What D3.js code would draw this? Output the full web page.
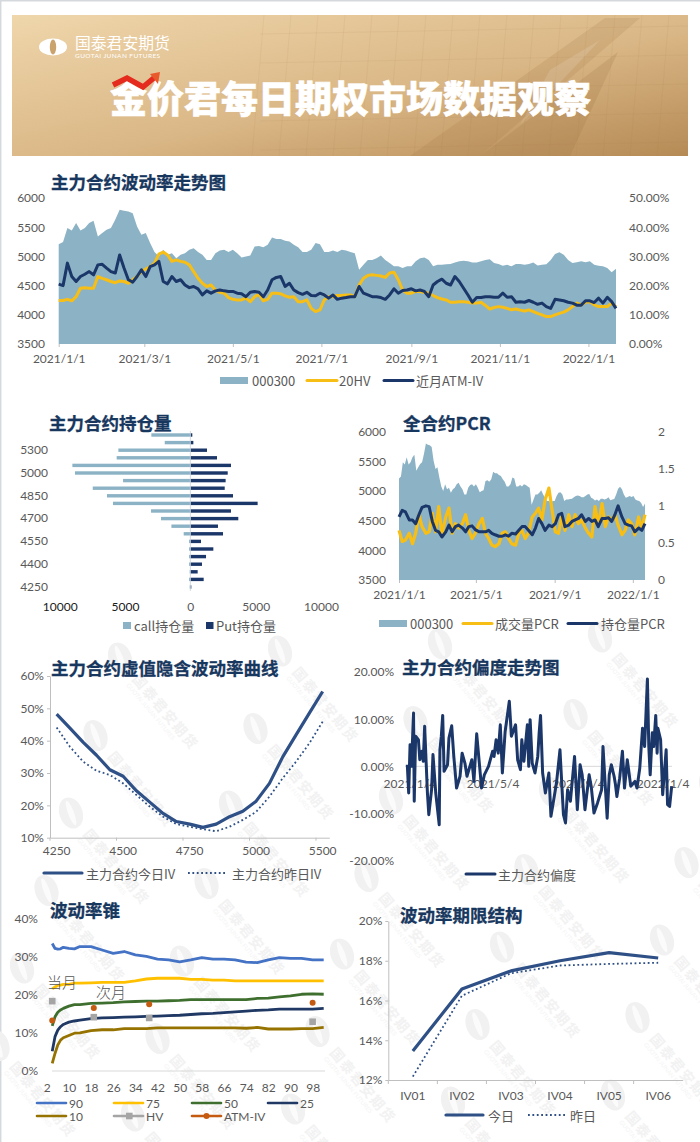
<!DOCTYPE html>
<html>
<head>
<meta charset="utf-8">
<script src="https://cdn.jsdelivr.net/npm/d3@7"></script>
<style>
  html, body { margin: 0; padding: 0; background: #fff; }
  svg { display: block; }
  text { font-family: Lato, "Noto Sans CJK SC", sans-serif; fill: #595959; font-size: 12px; }
  .title { font-family: "Noto Sans CJK SC", sans-serif; font-size: 17.5px; font-weight: 700; fill: #17375e; stroke: #17375e; stroke-width: 0.3px; }
  .legend { font-size: 13px; font-family: "Noto Sans CJK SC", Lato, sans-serif; }
  .axis path, .axis line { stroke: #bfbfbf; }
</style>
</head>
<body>
<div id="container"></div>
<script>
// sampled every 3 days from 2021/1/1
const hs300 = [5210,5245,5485,5445,5570,5445,5485,5570,5610,5340,5400,5455,5485,5630,5800,5780,5770,5740,5510,5370,5400,5230,5075,5000,5115,5030,5055,4970,5030,5055,5115,5140,5075,5030,4940,4940,5055,5100,5115,5075,5115,5055,4980,5000,5015,5170,5180,5155,5200,5325,5300,5300,5270,5255,5200,5155,5075,5075,5115,5230,5210,5075,5075,5100,5075,5115,5100,5075,5055,4770,4855,4940,4940,4970,5015,4940,4885,4830,4830,4800,4830,4830,4915,4970,4980,4940,4830,4855,4855,4865,4870,4895,4915,4925,4915,4895,4895,4915,4940,4950,4885,4870,4840,4855,4830,4870,4870,4855,4870,4895,4845,4855,4865,4940,5040,5070,5030,4940,4885,4900,4915,4900,4915,4855,4840,4830,4800,4730,4790];
const hv20 = [14.9,14.9,15.3,14.8,16.2,19.1,19.3,19.1,19.1,23.1,22.5,22.0,21.4,21.0,21.6,21.4,20.8,22.0,23.1,24.8,25.7,26.5,27.7,30.8,31.5,30.5,28.3,28.8,28.3,28.0,27.1,24.8,22.5,20.8,19.7,20.2,18.5,17.7,17.4,15.9,15.3,15.1,15.1,15.7,14.5,16.2,17.0,14.8,15.3,17.4,17.4,17.2,16.5,16.0,16.2,14.5,14.5,15.1,12.2,11.1,11.7,15.1,16.2,16.2,16.6,16.6,16.8,16.8,16.2,20.2,22.5,23.5,23.7,23.5,23.3,22.8,24.3,24.6,22.0,18.5,17.4,17.4,18.0,18.0,17.6,17.4,16.6,15.9,15.4,15.1,14.3,14.3,14.5,14.5,14.3,14.0,14.0,14.3,13.2,12.0,12.5,12.8,12.6,12.2,11.7,12.0,11.6,11.3,11.7,11.1,10.5,10.0,9.4,9.4,10.0,10.5,10.9,11.7,12.8,14.0,13.4,14.3,14.5,13.4,12.8,12.8,12.8,14.0,12.8];
const atmIv = [20.5,20.0,27.7,23.1,21.4,23.1,23.9,24.8,23.7,27.1,27.3,26.0,24.8,24.3,30.5,26.0,22.0,21.2,23.1,25.4,23.1,26.5,27.1,28.3,21.4,20.6,23.1,21.4,22.0,20.2,19.3,19.7,18.9,16.8,18.2,17.4,18.2,18.5,18.2,18.0,18.0,17.4,17.2,16.2,17.7,18.0,17.7,16.2,18.5,22.0,22.8,23.1,19.7,20.8,18.5,17.6,17.0,17.7,16.6,16.5,17.4,16.8,15.7,16.8,15.3,15.7,15.9,16.2,16.2,19.7,17.4,16.8,16.2,16.2,15.9,15.3,16.8,18.9,17.4,18.3,18.5,18.9,18.2,18.5,18.0,16.2,20.2,21.4,22.2,20.8,20.2,23.1,21.4,19.1,16.8,14.3,15.9,15.9,16.2,16.2,16.0,16.0,17.4,16.0,16.2,14.3,14.5,14.3,14.9,14.3,13.6,14.0,12.8,12.2,15.3,15.1,14.8,14.3,14.0,13.3,13.3,14.8,14.8,14.2,15.7,14.0,16.0,14.5,12.2];
const volTickLabels = ["2021/1/1","2021/3/1","2021/5/1","2021/7/1","2021/9/1","2021/11/1","2022/1/1"];

const strikes = [4250,4300,4350,4400,4450,4500,4550,4600,4650,4700,4750,4800,4850,4900,4950,5000,5100,5200,5300,5400,5500];
const strikeTicks = [4250,4400,4550,4700,4850,5000,5300];
const callOi = [50,100,50,100,100,100,100,510,1450,2245,3010,5920,6380,7470,5150,8830,9030,5640,5510,1960,2985];
const putOi = [75,1020,560,890,1200,1760,815,2500,2115,3670,3110,5150,3265,2630,2700,2860,3110,2040,1275,230,150];

const pcrVolume = [.67,.52,.54,.63,.49,.63,.88,.72,.63,.65,.90,.65,.99,.61,.85,.97,.63,.76,.70,.76,.88,.67,.56,.63,.76,.83,.63,.56,.47,.45,.49,.63,.65,.56,.49,.47,.63,.67,.56,.63,.85,.90,.97,.81,1.08,1.24,.94,.65,.63,.85,.67,.88,.72,.88,.76,.81,.70,.63,.58,.99,.74,1.03,.72,.85,.81,.88,.74,.61,.67,.81,.76,.61,.85,.70,.88];
const pcrOi = [.85,.94,.92,.81,.81,.76,.88,.98,1.0,.99,.79,.67,.65,.58,.65,.74,.65,.72,.74,.70,.65,.72,.73,.68,.65,.65,.65,.67,.63,.61,.59,.59,.61,.59,.63,.62,.67,.72,.72,.67,.61,.70,.83,.76,.67,.74,.72,.76,.88,.90,.72,.74,.79,.81,.83,.88,.79,.83,.79,.81,.72,.83,.83,.84,.79,.88,1.0,.85,.76,.74,.73,.65,.70,.67,.76];
const pcrTickLabels = ["2021/1/1","2021/5/1","2021/9/1","2022/1/1"];

const ivToday = [48.2,43.9,39.5,35.5,31,29,24.5,21,17.5,15,14.2,13.2,14.2,16.5,18.2,21.3,26.8,35,41.8,48.5,55.2];
const ivYesterday = [44.1,38.1,33.5,30.7,29.4,26.8,23.2,19.6,16.5,14.2,13.4,12.6,12,13.4,15.5,18,22.7,28.4,33.5,39.2,45.9];
const ivTicks = [4250,4500,4750,5000,5500];

// days after 2021/1/4, the series is too jagged to read on a regular step
const skewDays = [0,2,4,6,9,10,12,16,18,21,23,25,29,31,35,37,41,46,47,49,51,53,58,60,64,67,71,76,79,83,86,93,96,100,107,111,117,123,125,128,131,134,137,141,147,150,156,159,163,165,168,173,175,177,180,184,188,190,192,195,199,204,207,211,215,220,225,228,231,235,241,245,249,252,256,262,265,269,274,280,282,288,291,294,298,300,302,306,310,313,317,322,328,331,335,339,342,346,348,350,353,355,358,360,361,365,368,373,375,378,381];
const skew = [.35,-5.65,4.6,0,11.3,-7.4,6.4,5.65,1.4,3.2,1.06,8.5,-5.65,-10.25,-4.95,2.5,-5.65,-12.4,3.5,6.4,10.8,-1.06,.35,6,8.6,2.1,-4.6,-2.1,2.8,.7,-2.1,1.4,-3.2,6.9,-4.6,-1.8,0,3.2,2.1,5.65,2.8,8.8,-1.4,7.4,13.8,6.4,8.8,1.4,-.7,5.65,1.06,8.8,0,9.9,.7,-1.4,2.1,7.1,10.8,-1.4,-5.65,-1.4,-10.6,-7.1,-3.5,3.5,-10.25,-12,-4.95,-7.4,2.1,-9.2,.35,-1.8,-9.2,-1.8,-4.2,-9.9,-7.8,-4.95,4.2,-11,-1.8,.35,-2.1,-3.9,-6.4,-2.5,3.2,-4.6,1.4,-4.2,-3.2,-4.6,-.35,8.1,4.2,18.5,4.2,-1.8,7.1,4.2,10.8,2.8,8.1,5.65,-6,3.5,-8.1,-8.5,-4.2];
const skewTickLabels = ["2021/1/4","2021/5/4","2021/9/4","2022/1/4"];

const coneX = [4,5,6,7,8,10,12,14,18,22,26,30,34,38,42,46,50,54,58,62,66,70,74,78,82,86,90,94,98,102];
const cone90 = [33.4,32.1,31.9,32,32.4,32.1,32,32.6,32.6,31.7,30.8,31.3,30.4,30,29.3,29.1,28.6,29.1,29.7,29.3,29.3,29.1,28.5,28.4,29.1,29.7,29.5,29.5,29.1,29.1];
const cone75 = [21.5,22,22.4,22.5,22.7,22.7,23,23,23.1,23.2,23.2,23.2,23.6,24.1,24.3,24.3,24.3,24,24,23.8,23.8,23.6,23.6,23.6,23.6,23.6,23.6,23.6,23.6,23.6];
const cone50 = [11.8,14.2,15.4,16,16.4,17,17.4,17.4,17.7,17.8,17.9,18.1,18.2,18.3,18.3,18.4,18.5,18.7,18.7,18.7,18.7,18.7,18.7,19,19.1,19.4,19.7,20.1,20.2,20.1];
const cone25 = [5.2,9,10.7,11.6,12.2,12.8,13.1,13.3,13.7,13.9,14,14.1,14.2,14.3,14.4,14.5,14.6,14.8,15,15.1,15.3,15.5,15.7,15.9,16,16.2,16.2,16.2,16.2,16.4];
const cone10 = [2,4.6,6.8,8.1,8.7,9.3,9.9,10,10.6,10.8,10.8,11.1,11.1,11.1,11.3,11.3,11.3,11.3,11.3,11.3,11.3,11.3,11.2,11.4,11,11,11,11.1,11.1,11.4];
const coneTicks = [2,10,18,26,34,42,50,58,66,74,82,90,98];
const pointX = [4,19,39,98];
const hvPoints = [18.3,14.1,13.9,12.9];
const atmPoints = [13.2,16.5,17.5,17.9];

const terms = ["IV01","IV02","IV03","IV04","IV05","IV06"];
const termToday = [13.46,16.58,17.49,18,18.41,18.14];
const termYesterday = [12.17,16.24,17.37,17.76,17.84,17.9];

const navy = "#1b3668", gold = "#f7be16", teal = "#8cb3c5", blue2 = "#2e5086";
const width = 700, height = 1142;

const svg = d3.select("#container").append("svg").attr("width", width).attr("height", height);

// page frame
svg.append("rect").attr("width", width).attr("height", height).attr("fill", "#fff");
svg.append("path").attr("d", "M0.7,1142V0.7H700").attr("fill", "none").attr("stroke", "#d5d9dd").attr("stroke-width", 1.5);

// watermark, a skewed grid of logo + name
const wm = svg.append("g");
for (let r = -4; r < 14; r++) {
  for (let c = -3; c < 7; c++) {
    const x = 502 + c * 160 - r * 24.5, y = 947 + c * -7 + r * 77.5;
    if (x < -40 || x > 730 || y < 120 || y > 1160) continue;
    const g = wm.append("g").attr("transform", `translate(${x},${y})`);
    g.append("ellipse").attr("rx", 11.5).attr("ry", 16).attr("transform", "rotate(-20)").attr("fill", "#f1f1f1");
    g.append("ellipse").attr("rx", 3).attr("ry", 13).attr("transform", "rotate(-20)").attr("fill", "#fbfbfb");
    const t = g.append("g").attr("transform", "rotate(50)");
    t.append("text").attr("x", 24).attr("y", 5).text("国泰君安期货")
      .style("font-family", "'Noto Sans CJK SC'").style("font-size", "14px").style("font-weight", 700)
      .style("fill", "#f2f2f2").style("letter-spacing", "1.5px");
    t.append("text").attr("x", 25).attr("y", 13).text("GUOTAI JUNAN FUTURES")
      .style("font-size", "6px").style("fill", "#f4f4f4");
  }
}

// banner
const defs = svg.append("defs");
const grad = defs.append("linearGradient").attr("id", "banner")
  .attr("x1", "0").attr("y1", "0").attr("x2", "1").attr("y2", "1");
grad.append("stop").attr("offset", "0").attr("stop-color", "#efd6ab");
grad.append("stop").attr("offset", "0.55").attr("stop-color", "#dab786");
grad.append("stop").attr("offset", "1").attr("stop-color", "#b58a55");
defs.append("clipPath").attr("id", "bannerClip").append("rect")
  .attr("x", 12).attr("y", 15).attr("width", 676).attr("height", 141);

const banner = svg.append("g").attr("clip-path", "url(#bannerClip)");
banner.append("rect").attr("x", 12).attr("y", 15).attr("width", 676).attr("height", 141).attr("fill", "url(#banner)");
d3.range(260, 680, 27).forEach(x => {
  banner.append("line").attr("x1", x + 4).attr("y1", 15).attr("x2", x - 8).attr("y2", 156)
    .attr("stroke", "#a67f4d").attr("stroke-opacity", 0.09);
});
d3.range(30, 150, 29).forEach(y => {
  banner.append("line").attr("x1", 260).attr("y1", y + 4).attr("x2", 688).attr("y2", y - 4)
    .attr("stroke", "#a67f4d").attr("stroke-opacity", 0.09);
});
banner.append("polygon").attr("points", "410,156 605,18 640,18 480,156").attr("fill", "#9c7340").attr("opacity", 0.16);
banner.append("polygon").attr("points", "480,156 618,52 570,156").attr("fill", "#9c7340").attr("opacity", 0.2);
banner.append("polygon").attr("points", "550,70 600,40 520,125").attr("fill", "#fff").attr("opacity", 0.12);

// logo
banner.append("ellipse").attr("cx", 53).attr("cy", 47).attr("rx", 14).attr("ry", 8.5).attr("fill", "#fff");
banner.append("ellipse").attr("cx", 53).attr("cy", 47).attr("rx", 3.2).attr("ry", 7.5).attr("fill", "#c9a26c");
banner.append("text").attr("x", 75).attr("y", 49).text("国泰君安期货")
  .style("font-family", "'Noto Sans CJK SC'").style("font-size", "15.8px").style("fill", "#fff");
banner.append("text").attr("x", 75).attr("y", 58).text("GUOTAI JUNAN FUTURES")
  .style("font-size", "6.5px").style("fill", "#fff").style("letter-spacing", "0.4px");
banner.append("text").attr("x", 110).attr("y", 113).text("金价君每日期权市场数据观察")
  .style("font-family", "'Noto Sans CJK SC'").style("font-size", "37px").style("font-weight", 900)
  .style("fill", "#fff").attr("stroke", "#fff").attr("stroke-width", 0.6);
banner.append("path").attr("d", "M113,85L127,78L143,87L155,77").attr("fill", "none")
  .attr("stroke", "#e52a1e").attr("stroke-width", 5.5);
banner.append("polygon").attr("points", "150,74 160,72 158,84").attr("fill", "#e85a2c");

const title = (x, y, t) => svg.append("text").attr("class", "title").attr("x", x).attr("y", y)
  .attr("dominant-baseline", "central").text(t);
const label = (x, y, t, cls) => svg.append("text").attr("class", cls || "legend").attr("x", x).attr("y", y)
  .attr("dominant-baseline", "central").text(t);
const swatchLine = (x1, x2, y, color, w, dash) => svg.append("line")
  .attr("x1", x1).attr("x2", x2).attr("y1", y).attr("y2", y)
  .attr("stroke", color).attr("stroke-width", w).attr("stroke-dasharray", dash || null).attr("stroke-linecap", dash ? "butt" : "round");
const swatchRect = (x, y, w, h, color) => svg.append("rect").attr("x", x).attr("y", y).attr("width", w).attr("height", h).attr("fill", color);
const drawLine = (gen, data, color, w, dash) => svg.append("path").datum(data)
  .attr("d", gen).attr("fill", "none").attr("stroke", color).attr("stroke-width", w)
  .attr("stroke-linejoin", "round").attr("stroke-dasharray", dash || null);
const axisStyle = (g, hideLine) => {
  g.attr("class", "axis");
  if (hideLine) g.select(".domain").remove();
  g.selectAll("text").style("fill", "#595959");
};

const start2021 = new Date(2021, 0, 1);
const seriesDate = (i, n) => d3.timeDay.offset(start2021, Math.round(i * 384 / (n - 1)));

function indexChart(x0, x1, yTop, yBottom, tickLabels) {
  const x = d3.scaleTime().domain([start2021, d3.timeDay.offset(start2021, 384)]).range([x0, x1]);
  const y = d3.scaleLinear().domain([3500, 6000]).range([yBottom, yTop]);
  svg.append("path").datum(hs300).attr("fill", teal)
    .attr("d", d3.area().x((d, i) => x(seriesDate(i, hs300.length))).y0(yBottom).y1(d => y(d)));
  const xAxis = d3.axisBottom(x).tickValues(tickLabels.map(d => new Date(d)))
    .tickFormat((d, i) => tickLabels[i]).tickSize(3).tickPadding(7);
  svg.append("g").attr("transform", `translate(0,${yBottom})`).call(xAxis).call(axisStyle, true);
  return { x, y };
}

// 主力合约波动率走势图
title(51, 181, "主力合约波动率走势图");
const c1 = indexChart(58.7, 616, 198, 344, volTickLabels);
const c1Right = d3.scaleLinear().domain([0, 50]).range([344, 198]);
svg.append("g").attr("transform", "translate(48,0)")
  .call(d3.axisLeft(c1.y).ticks(5).tickSize(0).tickPadding(3).tickFormat(d3.format("d"))).call(axisStyle, true);
svg.append("g").attr("transform", "translate(629,0)")
  .call(d3.axisRight(c1Right).ticks(5).tickSize(0).tickPadding(0).tickFormat(d => d.toFixed(2) + "%")).call(axisStyle, true);
const c1Line = arr => d3.line().x((d, i) => c1.x(seriesDate(i, arr.length))).y(d => c1Right(d));
drawLine(c1Line(hv20), hv20, gold, 3);
drawLine(c1Line(atmIv), atmIv, navy, 3);
swatchRect(220, 377, 28, 7, teal);
label(252, 380.5, "000300");
swatchLine(307, 337, 380.5, gold, 3);
label(339, 380.5, "20HV");
swatchLine(384, 413, 380.5, navy, 3);
label(416, 380.5, "近月ATM-IV");

// 主力合约持仓量
title(49, 422, "主力合约持仓量");
const oiY = d3.scaleBand().domain(strikes.slice().reverse()).range([431.2, 590.8]);
const oiX = d3.scaleLinear().domain([-10000, 10000]).range([59.7, 321]);
svg.selectAll(".call").data(callOi).join("rect").attr("fill", teal)
  .attr("x", d => oiX(-d)).attr("width", d => oiX(0) - oiX(-d))
  .attr("y", (d, i) => oiY(strikes[i]) + 2.1).attr("height", 3.4);
svg.selectAll(".put").data(putOi).join("rect").attr("fill", navy)
  .attr("x", oiX(0)).attr("width", d => oiX(d) - oiX(0))
  .attr("y", (d, i) => oiY(strikes[i]) + 2.1).attr("height", 3.4);
svg.append("line").attr("x1", oiX(0)).attr("x2", oiX(0)).attr("y1", 431).attr("y2", 591).attr("stroke", "#c9d3da").attr("stroke-width", 0.8);
svg.append("g").attr("transform", "translate(50,0)")
  .call(d3.axisLeft(oiY).tickValues(strikeTicks).tickSize(0).tickPadding(2)).call(axisStyle, true);
svg.append("g").attr("transform", "translate(0,602.5)")
  .call(d3.axisBottom(oiX).tickValues([-10000, -5000, 0, 5000, 10000]).tickSize(0).tickPadding(0).tickFormat(d => Math.abs(d)))
  .call(axisStyle, true)
  .selectAll("text").style("fill", d => d < 0 ? "#1a1a1a" : "#595959");
swatchRect(123, 622, 8, 7, teal);
label(134, 625.5, "call持仓量");
swatchRect(206, 622, 7.5, 7, navy);
label(216, 625.5, "Put持仓量");

// 全合约PCR
title(403, 422, "全合约PCR");
const c3 = indexChart(399, 645, 431.7, 580, pcrTickLabels);
const c3Right = d3.scaleLinear().domain([0, 2]).range([580, 431.7]);
svg.append("g").attr("transform", "translate(389,0)")
  .call(d3.axisLeft(c3.y).ticks(5).tickSize(0).tickPadding(3).tickFormat(d3.format("d"))).call(axisStyle, true);
svg.append("g").attr("transform", "translate(658,0)")
  .call(d3.axisRight(c3Right).tickValues([0, .5, 1, 1.5, 2]).tickSize(0).tickPadding(0).tickFormat(d => String(d))).call(axisStyle, true);
const c3Line = arr => d3.line().x((d, i) => c3.x(seriesDate(i, arr.length))).y(d => c3Right(d));
drawLine(c3Line(pcrVolume), pcrVolume, gold, 3.2);
drawLine(c3Line(pcrOi), pcrOi, navy, 3);
swatchRect(379, 620, 28, 7, teal);
label(410, 623.5, "000300");
swatchLine(463, 492, 623.5, gold, 3);
label(495, 623.5, "成交量PCR");
swatchLine(568, 597, 623.5, navy, 3);
label(601, 623.5, "持仓量PCR");

// 主力合约虚值隐含波动率曲线
title(51, 667, "主力合约虚值隐含波动率曲线");
const ivX = d3.scaleBand().domain(strikes).range([50, 329.3]);
const ivY = d3.scaleLinear().domain([10, 60]).range([837.7, 676]);
const ivPos = (d, i) => ivX(strikes[i]) + ivX.bandwidth() / 2;
svg.append("g").attr("transform", "translate(50,0)")
  .call(d3.axisLeft(ivY).ticks(6).tickSize(3).tickSizeOuter(0).tickPadding(3).tickFormat(d => d + "%")).call(axisStyle);
const ivAxis = svg.append("g").attr("transform", "translate(0,837.7)")
  .call(d3.axisBottom(ivX).tickValues(ivTicks).tickSize(0).tickPadding(9)).call(axisStyle);
ivAxis.selectAll(".tick").append("line").attr("x1", -ivX.bandwidth() / 2).attr("x2", -ivX.bandwidth() / 2).attr("y2", 3);
const ivLine = d3.line().x(ivPos).y(d => ivY(d));
drawLine(ivLine, ivToday, blue2, 3.2);
drawLine(ivLine, ivYesterday, blue2, 1.8, "1.8 2.6");
swatchLine(44, 82, 873, blue2, 3.2);
label(86, 873, "主力合约今日IV");
swatchLine(188, 227, 873, blue2, 1.8, "1.8 2.6");
label(232, 873, "主力合约昨日IV");

// 主力合约偏度走势图
title(402, 666, "主力合约偏度走势图");
const skewStart = new Date(2021, 0, 4);
const skewXScale = d3.scaleTime().domain([skewStart, d3.timeDay.offset(skewStart, 381)]).range([407.3, 671.7]);
const skewY = d3.scaleLinear().domain([-20, 20]).range([860.7, 672]);
svg.append("g").attr("transform", "translate(397,0)")
  .call(d3.axisLeft(skewY).ticks(5).tickSize(0).tickPadding(3).tickFormat(d => d.toFixed(2) + "%")).call(axisStyle, true);
svg.append("g").attr("transform", `translate(2,${skewY(0)})`)
  .call(d3.axisBottom(skewXScale).tickValues(skewTickLabels.map(d => new Date(d)))
    .tickFormat((d, i) => skewTickLabels[i]).tickSize(0).tickPadding(13))
  .call(axisStyle, true);
svg.append("line").attr("x1", 405).attr("x2", 672).attr("y1", skewY(0)).attr("y2", skewY(0)).attr("stroke", "#d9d9d9");
drawLine(d3.line().x((d, i) => skewXScale(d3.timeDay.offset(skewStart, skewDays[i]))).y(d => skewY(d)), skew, navy, 3);
swatchLine(466, 495, 874, navy, 3);
label(498, 874, "主力合约偏度");

// 波动率锥
title(50, 909, "波动率锥");
const coneXScale = d3.scaleLinear().domain([2, 102]).range([46.7, 323.7]);
const coneY = d3.scaleLinear().domain([0, 40]).range([1071, 918.3]);
svg.append("g").attr("transform", "translate(41,0)")
  .call(d3.axisLeft(coneY).ticks(4).tickSize(0).tickPadding(3).tickFormat(d => d + "%")).call(axisStyle, true);
svg.append("g").attr("transform", "translate(0,1071)")
  .call(d3.axisBottom(coneXScale).tickValues(coneTicks).tickSize(0).tickPadding(12)).call(axisStyle, true);
svg.append("line").attr("x1", 52).attr("x2", 325).attr("y1", 1071).attr("y2", 1071).attr("stroke", "#d9d9d9");
const coneColors = { c90: "#4472c4", c75: "#ffc000", c50: "#3f6f2f", c25: "#1f3864", c10: "#967300" };
const coneLine = d3.line().x((d, i) => coneXScale(coneX[i])).y(d => coneY(d));
drawLine(coneLine, cone90, coneColors.c90, 2.8);
drawLine(coneLine, cone75, coneColors.c75, 2.8);
drawLine(coneLine, cone50, coneColors.c50, 2.8);
drawLine(coneLine, cone25, coneColors.c25, 2.8);
drawLine(coneLine, cone10, coneColors.c10, 2.8);
svg.selectAll(".hv").data(hvPoints).join("rect").attr("fill", "#a5a5a5")
  .attr("x", (d, i) => coneXScale(pointX[i]) - 3.3).attr("y", d => coneY(d) - 3.3).attr("width", 6.6).attr("height", 6.6);
svg.selectAll(".atm").data(atmPoints).join("circle").attr("fill", "#c55a11")
  .attr("cx", (d, i) => coneXScale(pointX[i])).attr("cy", d => coneY(d)).attr("r", 3);
label(47, 981, "当月").style("font-size", "15px").style("fill", "#555").style("font-weight", 300);
label(96, 991, "次月").style("font-size", "15px").style("fill", "#555").style("font-weight", 300);
const coneLegend = [
  [37, 66, 1103, coneColors.c90, "90"], [114, 143, 1103, coneColors.c75, "75"],
  [192, 221, 1103, coneColors.c50, "50"], [268, 297, 1103, coneColors.c25, "25"],
  [37, 66, 1116, coneColors.c10, "10"], [114, 143, 1116, "#a5a5a5", "HV"], [192, 221, 1116, "#c55a11", "ATM-IV"]
];
coneLegend.forEach(d => {
  swatchLine(d[0], d[1], d[2], d[3], 2.6);
  label(d[1] + 3, d[2], d[4]).style("font-size", "12px").style("font-family", "Lato");
});
swatchRect(126, 1112.7, 6.6, 6.6, "#a5a5a5");
svg.append("circle").attr("cx", 206.5).attr("cy", 1116).attr("r", 3).attr("fill", "#c55a11");

// 波动率期限结构
title(400, 914, "波动率期限结构");
const termX = d3.scaleBand().domain(terms).range([388.3, 682.7]);
const termY = d3.scaleLinear().domain([12, 20]).range([1080, 921]);
svg.append("g").attr("transform", "translate(388.3,0)")
  .call(d3.axisLeft(termY).ticks(4).tickSize(3).tickSizeOuter(0).tickPadding(3).tickFormat(d => d + "%")).call(axisStyle);
const termAxis = svg.append("g").attr("transform", "translate(0,1080)")
  .call(d3.axisBottom(termX).tickSize(0).tickPadding(11)).call(axisStyle);
termAxis.selectAll(".tick").append("line").attr("x1", -termX.bandwidth() / 2).attr("x2", -termX.bandwidth() / 2).attr("y2", 4);
const termLine = d3.line().x((d, i) => termX(terms[i]) + termX.bandwidth() / 2).y(d => termY(d));
drawLine(termLine, termToday, blue2, 3.2);
drawLine(termLine, termYesterday, blue2, 1.8, "1.8 2.6");
swatchLine(446, 483, 1115, blue2, 3.2);
label(488, 1115, "今日");
swatchLine(528, 566, 1115, blue2, 1.8, "1.8 2.6");
label(570, 1115, "昨日");
</script>
</body>
</html>
